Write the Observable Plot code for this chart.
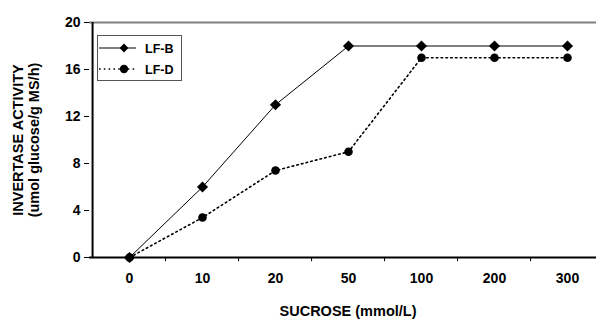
<!DOCTYPE html>
<html>
<head>
<meta charset="utf-8">
<script src="https://cdn.jsdelivr.net/npm/d3@7"></script>
<script src="https://cdn.jsdelivr.net/npm/@observablehq/plot@0.6"></script>
<style>
  html, body { margin: 0; padding: 0; background: #fff; overflow: hidden; }
  #wrap { position: relative; width: 596px; height: 322px; font-family: "Liberation Sans", Arial, sans-serif; }
  #legend { position: absolute; left: 97px; top: 35px; width: 85px; height: 46px; border: 1px solid #555; background: #fff; box-sizing: border-box; }
  #legend svg { display: block; }
</style>
</head>
<body>
<div id="wrap"><div id="chart"></div><div id="legend"></div></div>
<script>
const categories = ["0", "10", "20", "50", "100", "200", "300"];
const seriesNames = ["LF-B", "LF-D"];
const lfB = [0, 6, 13, 18, 18, 18, 18];
const lfD = [0, 3.4, 7.4, 9, 17, 17, 17];
const yTicks = [0, 4, 8, 12, 16, 20];
const yTitle1 = "INVERTASE ACTIVITY";
const yTitle2 = "(umol glucose/g MS/h)";
const xTitle = "SUCROSE (mmol/L)";

const dataB = categories.map((c, i) => ({x: c, y: lfB[i]}));
const dataD = categories.map((c, i) => ({x: c, y: lfD[i]}));

const left = 89, right = 606;
const step = (right - left) / categories.length;
const font = "Liberation Sans, Arial, sans-serif";

const chart = Plot.plot({
  width: 596,
  height: 322,
  marginLeft: 89,
  marginTop: 22,
  marginBottom: 65,
  marginRight: 0,
  style: {fontFamily: font, fontWeight: "bold", fontSize: "14px", color: "#000", background: "#fff"},
  x: {type: "point", domain: categories, range: [left, right], padding: 0.5},
  y: {domain: [0, 20], ticks: yTicks},
  marks: [
    Plot.ruleY([20], {stroke: "#808080", strokeWidth: 2}),
    Plot.ruleX(categories.slice(1), {x: d => d, dx: -step / 2, y1: 0, y2: -0.36, stroke: "#000", strokeWidth: 1}),
    Plot.line(dataD, {x: "x", y: "y", stroke: "#000", strokeWidth: 1.6, strokeDasharray: "1.6,3.2"}),
    Plot.line(dataB, {x: "x", y: "y", stroke: "#000", strokeWidth: 1}),
    Plot.dot(dataD, {x: "x", y: "y", symbol: "circle", r: 4.3, fill: "#000", stroke: "none"}),
    Plot.dot(dataB, {x: "x", y: "y", symbol: "diamond2", r: 5, fill: "#000", stroke: "none"}),
    Plot.axisY({ticks: yTicks, tickSize: 5, tickPadding: 4, label: null, fontWeight: "bold", fontSize: 14}),
    Plot.axisX({tickSize: 0, tickPadding: 16, label: null, fontWeight: "bold", fontSize: 14}),
    Plot.ruleX([categories[0]], {x: d => d, dx: -step / 2, y1: 0, y2: 20, stroke: "#000", strokeWidth: 2}),
    Plot.ruleY([0], {stroke: "#000", strokeWidth: 2}),
    Plot.text([yTitle1], {frameAnchor: "left", textAnchor: "middle", dx: -71, rotate: -90, text: d => d, fontSize: 14.5, fontWeight: "bold", fill: "#000"}),
    Plot.text([yTitle2], {frameAnchor: "left", textAnchor: "middle", dx: -55, rotate: -90, text: d => d, fontSize: 14.5, fontWeight: "bold", fill: "#000"}),
    Plot.text([xTitle], {frameAnchor: "bottom", dx: 5, dy: 58, text: d => d, fontSize: 14.5, fontWeight: "bold", fill: "#000"})
  ]
});
document.getElementById("chart").appendChild(chart);

// Legend
const lg = d3.select("#legend").append("svg").attr("width", 83).attr("height", 44);
const rows = [
  {name: seriesNames[0], dash: null, sw: 1, sym: d3.symbolDiamond2, size: 50},
  {name: seriesNames[1], dash: "1.6,3.2", sw: 1.6, sym: d3.symbolCircle, size: 55}
];
rows.forEach((r, i) => {
  const y = 12 + i * 21;
  lg.append("line").attr("x1", 1).attr("x2", 38).attr("y1", y).attr("y2", y)
    .attr("stroke", "#000").attr("stroke-width", r.sw).attr("stroke-dasharray", r.dash);
  lg.append("path").attr("d", d3.symbol(r.sym, r.size)()).attr("transform", `translate(26,${y})`).attr("fill", "#000");
  lg.append("text").attr("x", 47).attr("y", y).attr("dy", "0.36em").text(r.name)
    .attr("font-family", font).attr("font-weight", "bold").attr("font-size", 12.5).attr("fill", "#000");
});
</script>
</body>
</html>
